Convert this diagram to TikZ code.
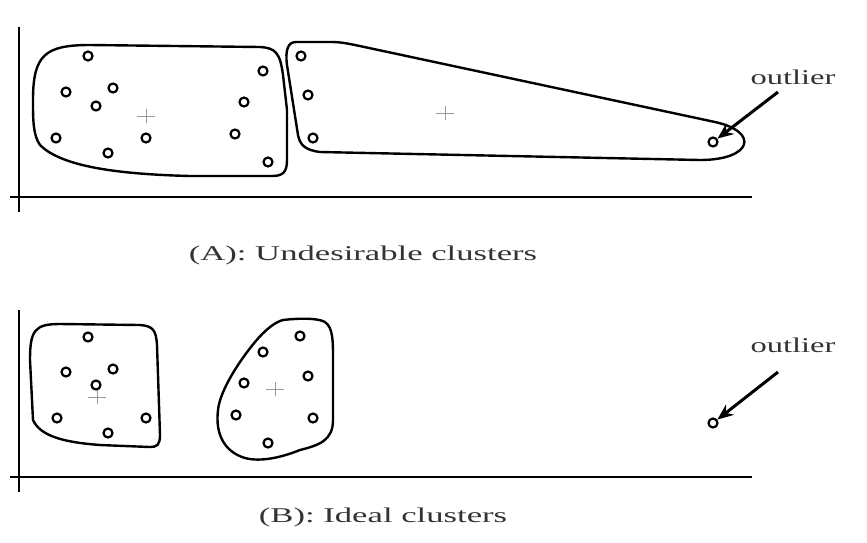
\documentclass[tikz,border=0pt]{standalone}
\usepackage{fontspec}
\setmainfont{Liberation Serif}
\usetikzlibrary{arrows.meta}
\begin{document}
\begin{tikzpicture}[x=1pt,y=-1pt,
  pt/.style={circle,draw,line width=2.2pt,inner sep=0pt,minimum size=9pt},
  axis/.style={line width=2.4pt},
  clus/.style={line width=2.4pt},
  cross/.style={draw=gray!80,line width=1pt},
  lbl/.style={text=black!80,inner sep=0pt,font=\fontsize{21}{21}\selectfont},
  arr/.style={line width=3pt,-{Stealth[length=16pt,width=13pt]}}]
\useasboundingbox (0,0) rectangle (867,542);
% ---------- panel A ----------
\draw[axis] (19,27) -- (19,212);
\draw[axis] (10,197) -- (752,197);
\draw[clus] (33,100) .. controls (33,55) and (45,45) .. (90,45) -- (260,47)
  .. controls (275,48) and (280,52) .. (283,75) -- (287,110) -- (287,160)
  .. controls (287,172) and (283,176) .. (272,176) -- (190,176)
  .. controls (110,174) and (60,165) .. (40,145)
  .. controls (33,135) and (33,120) .. (33,100) -- cycle;
\draw[clus] (296,42) -- (330,42) .. controls (340,42) and (345,43) .. (355,45) -- (715,122)
  .. controls (760,132) and (752,160) .. (700,160) -- (320,152)
  .. controls (305,150) and (300,145) .. (298,135) -- (287,65)
  .. controls (285,50) and (288,42) .. (296,42) -- cycle;
\foreach \n/\x/\y in {a1/88/56,a2/66/92,a3/113/88,a4/96/106,a5/56/138,a6/108/153,a7/146/138,
  a8/263/71,a9/244/102,a10/235/134,a11/268/162,a12/301/56,a13/308/95,a14/313/138}
  {\node[pt] (\n) at (\x,\y) {};}
\node[pt] (oA) at (713,142) {};
\draw[cross] (137,116) -- (155,116) (146,109) -- (146,123);
\draw[cross] (436,113) -- (454,113) (445,106) -- (445,120);
\node[lbl] (tA) at (793,77) {\scalebox{1.55}[1]{outlier}};
\coordinate (sA) at (778,92);
\draw[arr] (sA) -- (oA);
\node[lbl] (capA) at (363,255) {\scalebox{1.65}[1]{(A): Undesirable clusters}};
% ---------- panel B ----------
\draw[axis] (19,310) -- (19,492);
\draw[axis] (10,477) -- (752,477);
\draw[clus] (30,360) .. controls (30,330) and (35,324) .. (60,324) -- (140,325)
  .. controls (153,326) and (156,330) .. (157,345) -- (160,435)
  .. controls (160,445) and (157,447) .. (150,447) -- (100,445)
  .. controls (60,442) and (40,435) .. (33,420) -- (30,360) -- cycle;
\draw[clus] (283,320) .. controls (300,318) and (318,318) .. (325,322)
  .. controls (333,328) and (333,340) .. (333,360) -- (333,420)
  .. controls (333,440) and (320,445) .. (300,450)
  .. controls (280,458) and (260,462) .. (245,458)
  .. controls (225,452) and (215,435) .. (218,410)
  .. controls (220,390) and (240,360) .. (255,342)
  .. controls (265,330) and (275,322) .. (283,320) -- cycle;
\draw[cross] (88,397) -- (106,397) (97,390) -- (97,404);
\draw[cross] (266,389) -- (284,389) (275,382) -- (275,396);
\foreach \n/\x/\y in {b1/88/337,b2/66/372,b3/113/369,b4/96/385,b5/57/418,b6/108/433,b7/146/418,
  b8/300/336,b9/263/352,b10/308/376,b11/244/383,b12/236/415,b13/313/418,b14/268/443}
  {\node[pt] (\n) at (\x,\y) {};}
\node[pt] (oB) at (713,423) {};
\node[lbl] (tB) at (793,345) {\scalebox{1.55}[1]{outlier}};
\coordinate (sB) at (778,372);
\draw[arr] (sB) -- (oB);
\node[lbl] (capB) at (383,517) {\scalebox{1.65}[1]{(B): Ideal clusters}};
\end{tikzpicture}
\end{document}
